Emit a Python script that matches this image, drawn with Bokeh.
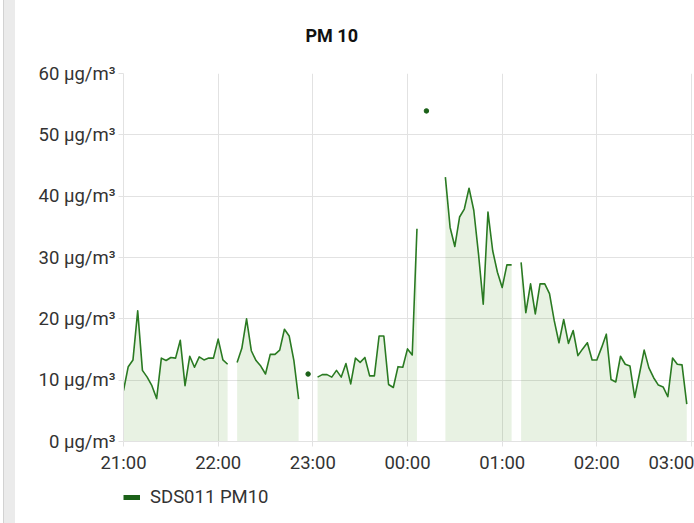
from datetime import datetime, timedelta
from bokeh.plotting import figure
from bokeh.layouts import column, row
from bokeh.core.properties import value
from bokeh.models import (Range1d, DatetimeTickFormatter, PrintfTickFormatter,
                          FixedTicker, Legend, LegendItem, ColumnDataSource, Div)
from bokeh.embed import file_html
from bokeh.resources import INLINE

# ---------------- data ----------------
title_text = "PM 10"
series_name = "SDS011 PM10"
start_time = datetime(2019, 1, 1, 21, 0)
interval_minutes = 3
hour_ticks = [0, 1, 2, 3, 4, 5, 6]
y_ticks = [0, 10, 20, 30, 40, 50, 60]

seg_a = [8.3, 12.2, 13.3, 21.3, 11.6, 10.5, 9.1, 7.0, 13.6, 13.2, 13.7, 13.6,
         16.5, 9.1, 13.9, 12.1, 13.8, 13.3, 13.6, 13.6, 16.7, 13.3, 12.6]
seg_b = [12.9, 15.2, 20.0, 14.8, 13.2, 12.3, 11.0, 14.2, 14.2, 14.9, 18.3,
         17.2, 13.2, 6.9]
seg_c = [10.5, 10.9, 10.9, 10.5, 11.6, 10.5, 12.7, 9.4, 13.6, 12.9, 13.7, 10.7,
         10.7, 17.2, 17.2, 9.3, 8.8, 12.2, 12.1, 15.1, 14.1, 34.7]
seg_d = [43.1, 34.9, 31.8, 36.6, 37.9, 41.3, 37.7, 30.6, 22.4, 37.4, 31.1,
         27.6, 25.1, 28.8, 28.8]
seg_e = [29.2, 21.0, 25.7, 20.8, 25.7, 25.7, 24.1, 19.7, 16.1, 19.9, 16.0,
         18.1, 14.0, 15.1, 16.1, 13.3, 13.3, 15.3, 17.5, 10.1, 9.7, 13.9, 12.6,
         12.3, 7.2, 11.0, 14.9, 12.0, 10.4, 9.2, 8.9, 7.3, 13.6, 12.6, 12.5, 6.1]

pm10 = (seg_a + [None] + seg_b + [None, 11.0, None] + seg_c +
        [None, 53.9, None, None, None] + seg_d + [None] + seg_e)
times = [start_time + timedelta(minutes=interval_minutes * i) for i in range(len(pm10))]

# ---------------- styles ----------------
LINE = "#2a7a22"
DARK = "#1b6118"
FILL = "#4c9a2a"
GRID = "#e2e2e2"
FONT = "Roboto"
TXT = "#333333"
LABEL_SIZE = "18.5px"
SIDE_W = 16
TOTAL_W = 694
TITLE_H = 60
LEGEND_H = 45

epoch = datetime(1970, 1, 1)
def ms(dt):
    return (dt - epoch).total_seconds() * 1000.0

x_end = start_time + timedelta(hours=6, minutes=1.9)

# ---------------- title strip ----------------
tf = figure(width=TOTAL_W - SIDE_W, height=TITLE_H, output_backend="svg",
            toolbar_location=None, x_range=Range1d(0, 571), y_range=Range1d(0, TITLE_H),
            x_axis_location=None, y_axis_location=None,
            min_border_left=123 - SIDE_W, min_border_right=0,
            min_border_top=0, min_border_bottom=0)
tf.outline_line_color = None
tf.xgrid.visible = False
tf.ygrid.visible = False
tf.text(x=[182], y=[TITLE_H - 35], text=[title_text], text_font=value(FONT),
        text_font_size="18px", text_font_style="bold", text_color="#111111",
        text_align="left", text_baseline="middle")

# ---------------- main chart ----------------
p = figure(frame_width=571, frame_height=368, output_backend="svg", toolbar_location=None,
           x_axis_type="datetime",
           x_range=Range1d(ms(start_time), ms(x_end)),
           y_range=Range1d(0, 60),
           min_border_left=123 - SIDE_W, min_border_right=0,
           min_border_top=73 - TITLE_H, min_border_bottom=37)

p.outline_line_color = None
p.background_fill_color = "white"
p.border_fill_color = "white"

# split into continuous runs
runs = []
cur = []
for t, v in zip(times, pm10):
    if v is None:
        if cur:
            runs.append(cur)
        cur = []
    else:
        cur.append((t, v))
if cur:
    runs.append(cur)

for run in runs:
    xs = [r[0] for r in run]
    ys = [r[1] for r in run]
    if len(run) > 1:
        src = ColumnDataSource(dict(x=xs, y=ys, y0=[0] * len(ys)))
        p.varea(x="x", y1="y0", y2="y", source=src, fill_color=FILL, fill_alpha=0.13)
        p.line(x="x", y="y", source=src, line_color=LINE, line_width=1.6,
               line_join="round")
    else:
        p.scatter(x=xs, y=ys, size=4.5, fill_color=DARK, line_color=DARK)

# axes
p.xaxis.ticker = FixedTicker(ticks=[ms(start_time + timedelta(hours=h)) for h in hour_ticks])
fmt = "%H:%M"
p.xaxis.formatter = DatetimeTickFormatter(milliseconds=fmt, seconds=fmt, minsec=fmt,
                                          minutes=fmt, hourmin=fmt, hours=fmt,
                                          days=fmt, months=fmt, years=fmt)
p.yaxis.ticker = FixedTicker(ticks=y_ticks)
p.yaxis.formatter = PrintfTickFormatter(format="%d µg/m³")

for ax in (p.xaxis, p.yaxis):
    ax.axis_line_color = GRID
    ax.major_tick_line_color = GRID
    ax.minor_tick_line_color = None
    ax.major_tick_in = 0
    ax.major_tick_out = 5
    ax.major_label_text_font = FONT
    ax.major_label_text_font_size = LABEL_SIZE
    ax.major_label_text_color = TXT
p.yaxis.major_label_standoff = 3
p.xaxis.major_label_standoff = 5

p.xgrid.grid_line_color = GRID
p.ygrid.grid_line_color = GRID

# ---------------- legend strip ----------------
lf = figure(width=TOTAL_W - SIDE_W, height=LEGEND_H, output_backend="svg",
            toolbar_location=None,
            x_range=Range1d(0, 1), y_range=Range1d(0, 1),
            x_axis_location=None, y_axis_location=None,
            min_border_left=123 - SIDE_W, min_border_right=0,
            min_border_top=0, min_border_bottom=0)
lf.outline_line_color = None
lf.xgrid.visible = False
lf.ygrid.visible = False
legend_r = lf.line(x=[5, 6], y=[5, 5], line_color=DARK, line_width=5)
legend = Legend(items=[LegendItem(label=series_name, renderers=[legend_r])],
                location=(0, 15), orientation="horizontal",
                margin=0, padding=5, glyph_width=17, glyph_height=14,
                label_standoff=10, border_line_color=None,
                background_fill_alpha=0,
                label_text_font=FONT, label_text_font_size=LABEL_SIZE,
                label_text_color=TXT)
lf.add_layout(legend)

side = Div(text='<div style="position:absolute;left:3px;top:0px;width:12px;height:523px;'
                'background:#ebebeb;border-left:1px solid #d2d2d2;"></div>',
           width=SIDE_W, height=523, margin=0)

layout = row(side, column(tf, p, lf, spacing=0), spacing=0)

open("out.html", "w").write(file_html(layout, INLINE))
